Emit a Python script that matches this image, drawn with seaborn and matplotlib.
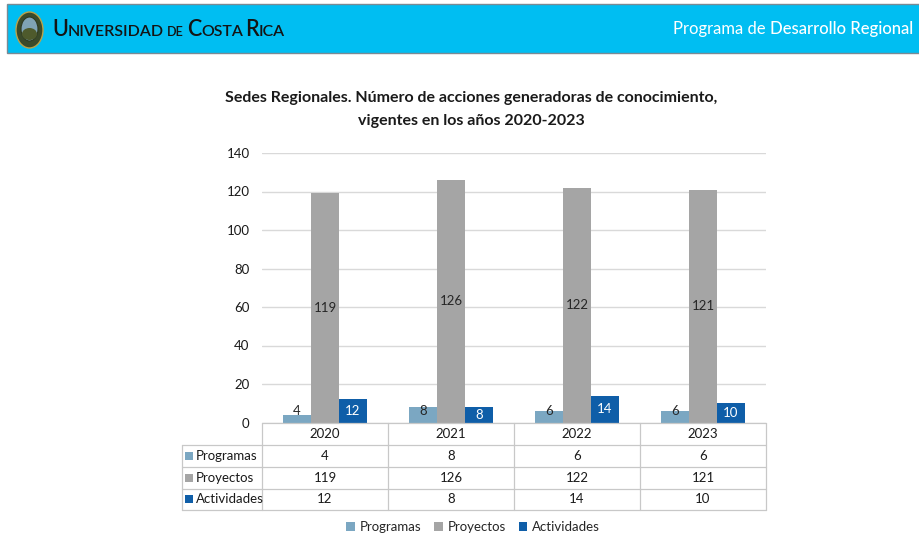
import pandas as pd
import matplotlib.pyplot as plt
import matplotlib.transforms as mtransforms
from matplotlib.patches import Rectangle, Ellipse, Patch
import seaborn as sns

# Datos del gráfico
anios = ['2020', '2021', '2022', '2023']
series = ['Programas', 'Proyectos', 'Actividades']
programas = [4, 8, 6, 6]
proyectos = [119, 126, 122, 121]
actividades = [12, 8, 14, 10]
colores = ['#7BA7C2', '#A5A5A5', '#0F5EA8']

titulo = ['Sedes Regionales. Número de acciones generadoras de conocimiento,',
          'vigentes en los años 2020-2023']

valores = {'Programas': programas, 'Proyectos': proyectos, 'Actividades': actividades}
df = pd.DataFrame([(a, s, valores[s][i]) for s in series for i, a in enumerate(anios)],
                  columns=['anio', 'serie', 'valor'])

sns.set_theme(style='white')
plt.rcParams['font.family'] = ['Lato', 'DejaVu Sans']

W, H = 920, 535


def fx(px):
    return px / W


def fy(py):
    return 1 - py / H


fig = plt.figure(figsize=(9.2, 5.35), dpi=100)
ax = fig.add_axes([fx(262), fy(422.5), fx(766) - fx(262), fy(153) - fy(422.5)])

sns.barplot(data=df, x='anio', y='valor', hue='serie', hue_order=series, palette=colores,
            width=0.667, gap=0, saturation=1, linewidth=0, legend=False, ax=ax)

ax.set_xlim(-0.5, 3.5)
ax.set_ylim(0, 140)
ax.set_yticks(range(0, 141, 20))
ax.grid(axis='y', color='#D9D9D9', lw=1)
ax.set_axisbelow(True)
for sp in ax.spines.values():
    sp.set_visible(False)
ax.set_xlabel('')
ax.set_ylabel('')
ax.set_xticks([])
ax.tick_params(axis='y', length=0, pad=9, labelsize=9.5, labelcolor='#1a1a1a')

# Etiquetas de datos
cont = ax.containers
for bar, v in zip(cont[0], programas):
    ax.text(bar.get_x() + bar.get_width() / 2, max(v / 2, 6), str(v),
            ha='center', va='center', fontsize=9.5, color='#262626')
ax.bar_label(cont[1], label_type='center', fontsize=9.5, color='#262626')
ax.bar_label(cont[2], label_type='center', fontsize=9.5, color='white')

# Tabla de datos
tr = mtransforms.blended_transform_factory(ax.transData, fig.transFigure)
lc = '#C8C8C8'
filas_y = [422.5, 445, 467, 488.5, 510]
for k, py in enumerate(filas_y):
    x0 = 262 if k == 0 else 182
    fig.add_artist(plt.Line2D([fx(x0), fx(766)], [fy(py), fy(py)], color=lc, lw=0.9))
fig.add_artist(plt.Line2D([fx(182), fx(182)], [fy(445), fy(510)], color=lc, lw=0.9))
for b in range(len(anios) + 1):
    fig.add_artist(plt.Line2D([b - 0.5, b - 0.5], [fy(422.5), fy(510)], color=lc, lw=0.9,
                              transform=tr))
for i, a in enumerate(anios):
    fig.text(i, fy(434), a, transform=tr, ha='center', va='center', fontsize=9.5, color='#1a1a1a')
    for r, s in enumerate(series):
        fig.text(i, fy((filas_y[r + 1] + filas_y[r + 2]) / 2), str(valores[s][i]), transform=tr,
                 ha='center', va='center', fontsize=9.5, color='#1a1a1a')
for r, s in enumerate(series):
    yc = (filas_y[r + 1] + filas_y[r + 2]) / 2
    fig.add_artist(Rectangle((fx(185), fy(yc + 4)), fx(8), fy(0) - fy(8), facecolor=colores[r],
                             edgecolor='none', transform=fig.transFigure))
    fig.text(fx(196), fy(yc), s, ha='left', va='center', fontsize=9.5, color='#1a1a1a')

# Leyenda
manijas = [Patch(facecolor=c, edgecolor='none', label=s) for s, c in zip(series, colores)]
fig.legend(handles=manijas, loc='center', bbox_to_anchor=(fx(473), fy(527)), ncol=3,
           frameon=False, fontsize=9.5, handlelength=0.65, handleheight=0.65,
           handletextpad=0.35, columnspacing=1.0)

# Título
fig.text(fx(471), fy(98), titulo[0], ha='center', va='center', fontsize=11.5,
         fontweight='bold', color='#1a1a1a')
fig.text(fx(471), fy(121), titulo[1], ha='center', va='center', fontsize=11.5,
         fontweight='bold', color='#1a1a1a')

# Encabezado institucional
fig.add_artist(Rectangle((fx(7), fy(53)), fx(920), fy(4) - fy(53), facecolor='#00BEF2',
                         edgecolor='#7A8A94', lw=1, transform=fig.transFigure))
fig.add_artist(Ellipse((fx(29.5), fy(30)), fx(27), fy(0) - fy(36), facecolor='#3B4A2A',
                       edgecolor='#B9A24A', lw=1, transform=fig.transFigure))
fig.add_artist(Ellipse((fx(29.5), fy(29)), fx(17), fy(0) - fy(24), facecolor='#7FA3B5',
                       edgecolor='#2E3A22', lw=0.8, transform=fig.transFigure))
fig.add_artist(Ellipse((fx(29.5), fy(34)), fx(15), fy(0) - fy(12), facecolor='#4E5A2C',
                       edgecolor='none', transform=fig.transFigure))

renderer = fig.canvas.get_renderer()
piezas = [('U', 15.5), ('NIVERSIDAD', 11.5), (' ', 9), ('DE', 9), (' ', 9), ('C', 15.5),
          ('OSTA', 11.5), (' ', 5), ('R', 15.5), ('ICA', 11.5)]
x = 52
for txt, fs in piezas:
    t = fig.text(fx(x), fy(36), txt, ha='left', va='baseline', fontsize=fs,
                 fontweight='semibold', color='#141414')
    x += t.get_window_extent(renderer).width

t = fig.text(fx(673), fy(34), 'Programa de ', ha='left', va='baseline', fontsize=12, color='white')
x = 673 + t.get_window_extent(renderer).width
fig.text(fx(x), fy(34), 'Desarrollo Regional', ha='left', va='baseline', fontsize=12,
         fontweight='medium', color='white')

fig.savefig('out.png', dpi=100)
